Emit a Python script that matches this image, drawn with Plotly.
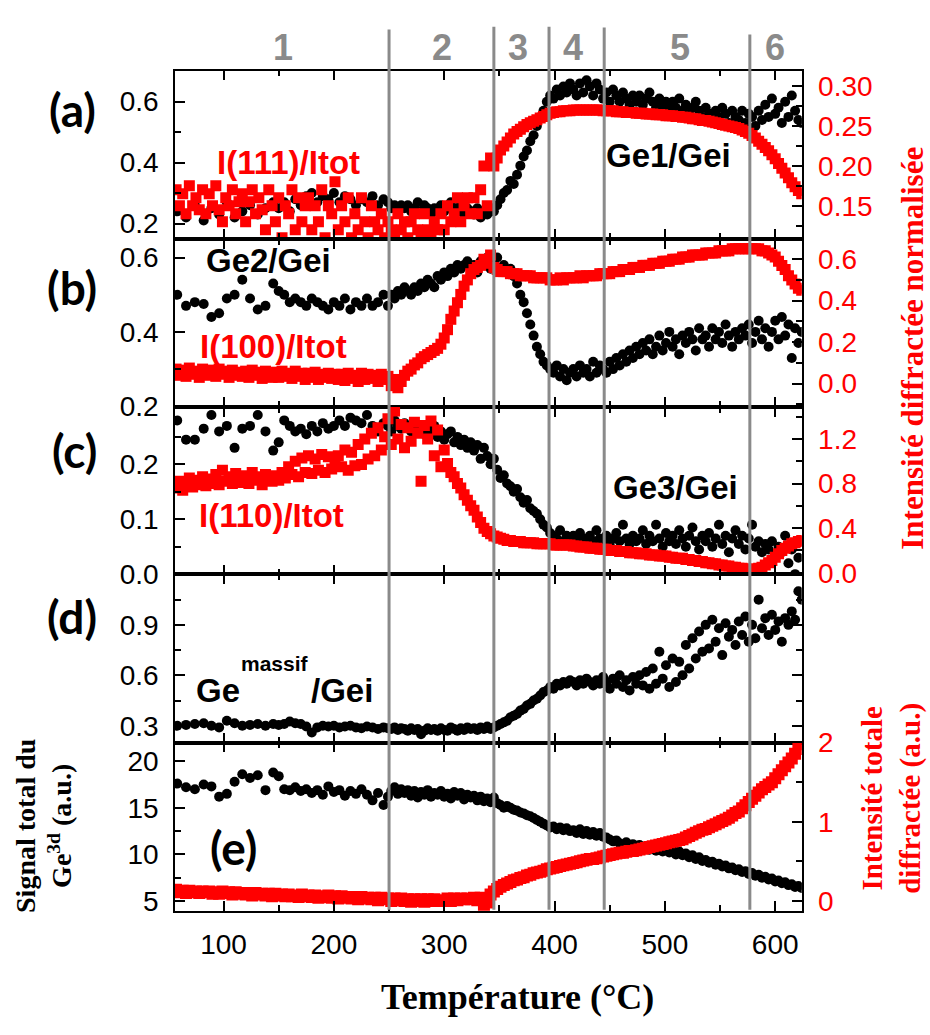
import plotly.graph_objects as go

W, H = 930, 1035

# ---------------------------------------------------------------- data
# Diffraction scans (red squares): one point every 3 degC
T_XRD = [
    57, 60, 63, 66, 69, 72, 75, 78, 81, 84,
    87, 90, 93, 96, 99, 102, 105, 108, 111, 114,
    117, 120, 123, 126, 129, 132, 135, 138, 141, 144,
    147, 150, 153, 156, 159, 162, 165, 168, 171, 174,
    177, 180, 183, 186, 189, 192, 195, 198, 201, 204,
    207, 210, 213, 216, 219, 222, 225, 228, 231, 234,
    237, 240, 243, 246, 249, 252, 255, 258, 261, 264,
    267, 270, 273, 276, 279, 282, 285, 288, 291, 294,
    297, 300, 303, 306, 309, 312, 315, 318, 321, 324,
    327, 330, 333, 336, 339, 342, 345, 348, 351, 354,
    357, 360, 363, 366, 369, 372, 375, 378, 381, 384,
    387, 390, 393, 396, 399, 402, 405, 408, 411, 414,
    417, 420, 423, 426, 429, 432, 435, 438, 441, 444,
    447, 450, 453, 456, 459, 462, 465, 468, 471, 474,
    477, 480, 483, 486, 489, 492, 495, 498, 501, 504,
    507, 510, 513, 516, 519, 522, 525, 528, 531, 534,
    537, 540, 543, 546, 549, 552, 555, 558, 561, 564,
    567, 570, 573, 576, 579, 582, 585, 588, 591, 594,
    597, 600, 603, 606, 609, 612, 615, 618, 621, 624,
]

# Photoemission spectra (black dots): sparse at low temperature, then every 3 degC
T_XPS = [
    58, 66, 74, 82, 89, 96, 103, 110, 117, 124, 131, 138, 145,
    150, 155, 160, 165, 170, 175, 180, 185, 190, 195,
    200, 205, 210, 215, 220, 225, 230, 235, 240, 245,
    249, 252, 255, 258, 261, 264,
    267, 270, 273, 276, 279, 282, 285, 288, 291, 294,
    297, 300, 303, 306, 309, 312, 315, 318, 321, 324,
    327, 330, 333, 336, 339, 342, 345, 348, 351, 354,
    357, 360, 363, 366, 369, 372, 375, 378, 381, 384,
    387, 390, 393, 396, 399, 402, 405, 408, 411, 414,
    417, 420, 423, 426, 429, 432, 435, 438, 441, 444,
    447, 450, 453, 456, 459, 462, 465, 468, 471, 474,
    477, 480, 483, 486, 489, 492, 495, 498, 501, 504,
    507, 510, 513, 516, 519, 522, 525, 528, 531, 534,
    537, 540, 543, 546, 549, 552, 555, 558, 561, 564,
    567, 570, 573, 576, 579, 582, 585, 588, 591, 594,
    597, 600, 603, 606, 609, 612, 615, 618, 621, 624,
]

# (a) Ge1/Gei and I(111)/Itot
GE1 = [
    0.24, 0.22, 0.26, 0.21, 0.25, 0.23, 0.27, 0.22, 0.24, 0.26, 0.23, 0.25, 0.27,
    0.25, 0.27, 0.24, 0.28, 0.26, 0.29, 0.30, 0.27, 0.29, 0.28,
    0.30, 0.27, 0.29, 0.28, 0.26, 0.28, 0.27, 0.29, 0.26, 0.28,
    0.27, 0.25, 0.26, 0.24, 0.26, 0.25,
    0.26, 0.24, 0.25, 0.27, 0.24, 0.26, 0.25, 0.23, 0.25, 0.24,
    0.26, 0.24, 0.25, 0.27, 0.25, 0.24, 0.26, 0.23, 0.25, 0.24,
    0.23, 0.25, 0.22, 0.24, 0.23, 0.25, 0.24, 0.26, 0.28, 0.30,
    0.31, 0.34, 0.33, 0.36, 0.39, 0.42, 0.44, 0.47, 0.49, 0.52,
    0.55, 0.57, 0.60, 0.62, 0.61, 0.64, 0.62, 0.65, 0.63, 0.66,
    0.64, 0.62, 0.66, 0.63, 0.67, 0.65, 0.62, 0.66, 0.64, 0.61,
    0.63, 0.60, 0.64, 0.62, 0.60, 0.63, 0.61, 0.59, 0.62, 0.60,
    0.62, 0.59, 0.61, 0.63, 0.60, 0.58, 0.61, 0.59, 0.60, 0.58,
    0.60, 0.58, 0.61, 0.57, 0.59, 0.56, 0.58, 0.60, 0.57, 0.55,
    0.58, 0.56, 0.54, 0.57, 0.55, 0.58, 0.56, 0.53, 0.57, 0.55,
    0.54, 0.57, 0.53, 0.56, 0.55, 0.52, 0.57, 0.54, 0.59, 0.55,
    0.61, 0.56, 0.58, 0.53, 0.60, 0.55, 0.62, 0.57, 0.54, 0.53,
]
I111 = [
    0.17, 0.15, 0.165, 0.14, 0.175, 0.15, 0.16, 0.145, 0.17, 0.14,
    0.165, 0.15, 0.175, 0.145, 0.13, 0.16, 0.15, 0.17, 0.14, 0.155,
    0.165, 0.13, 0.155, 0.17, 0.14, 0.16, 0.145, 0.12, 0.17, 0.15,
    0.13, 0.16, 0.11, 0.15, 0.14, 0.17, 0.12, 0.16, 0.13, 0.15,
    0.16, 0.12, 0.15, 0.13, 0.17, 0.11, 0.15, 0.14, 0.18, 0.12,
    0.15, 0.13, 0.16, 0.11, 0.14, 0.12, 0.16, 0.13, 0.11, 0.15,
    0.13, 0.12, 0.14, 0.11, 0.13, 0.12, 0.11, 0.14, 0.12, 0.13,
    0.11, 0.13, 0.14, 0.12, 0.11, 0.14, 0.12, 0.11, 0.13, 0.12,
    0.14, 0.12, 0.15, 0.13, 0.14, 0.16, 0.13, 0.15, 0.16, 0.14,
    0.16, 0.14, 0.17, 0.20, 0.15, 0.21, 0.20, 0.21, 0.22, 0.225,
    0.230, 0.235, 0.240, 0.243, 0.246, 0.249, 0.252, 0.254, 0.256, 0.258,
    0.260, 0.262, 0.264, 0.266, 0.267, 0.268, 0.268, 0.269, 0.269, 0.269,
    0.270, 0.270, 0.270, 0.270, 0.270, 0.270, 0.270, 0.270, 0.270, 0.269,
    0.269, 0.269, 0.269, 0.268, 0.268, 0.268, 0.267, 0.267, 0.267, 0.266,
    0.266, 0.266, 0.265, 0.265, 0.265, 0.264, 0.264, 0.264, 0.263, 0.263,
    0.263, 0.262, 0.262, 0.261, 0.261, 0.260, 0.259, 0.259, 0.258, 0.257,
    0.257, 0.256, 0.255, 0.254, 0.253, 0.252, 0.251, 0.250, 0.249, 0.248,
    0.247, 0.245, 0.243, 0.241, 0.238, 0.235, 0.231, 0.227, 0.223, 0.219,
    0.214, 0.209, 0.203, 0.197, 0.191, 0.185, 0.179, 0.174, 0.169, 0.165,
]

# (b) Ge2/Gei and I(100)/Itot
GE2 = [
    0.50, 0.47, 0.48, 0.475, 0.44, 0.45, 0.49, 0.50, 0.54, 0.49, 0.46, 0.47, 0.53,
    0.51, 0.50, 0.48, 0.49, 0.48, 0.47, 0.49, 0.48, 0.47, 0.46,
    0.48, 0.47, 0.49, 0.46, 0.48, 0.47, 0.49, 0.47, 0.48, 0.50,
    0.47, 0.50, 0.49, 0.51, 0.50, 0.52,
    0.51, 0.50, 0.52, 0.51, 0.53, 0.52, 0.54, 0.53, 0.52, 0.55,
    0.54, 0.56, 0.55, 0.57, 0.56, 0.58, 0.57, 0.58, 0.59, 0.57,
    0.58, 0.56, 0.59, 0.58, 0.60, 0.57, 0.59, 0.60, 0.57, 0.58,
    0.56, 0.57, 0.55, 0.53, 0.50, 0.48, 0.45, 0.42, 0.39, 0.36,
    0.34, 0.32, 0.31, 0.30, 0.29, 0.31, 0.28, 0.30, 0.27, 0.29,
    0.30, 0.28, 0.31, 0.29, 0.30, 0.28, 0.32, 0.29, 0.31, 0.30,
    0.29, 0.32, 0.30, 0.33, 0.31, 0.34, 0.32, 0.35, 0.33, 0.36,
    0.34, 0.37, 0.35, 0.38, 0.34, 0.36, 0.39, 0.35, 0.37, 0.40,
    0.36, 0.38, 0.34, 0.39, 0.37, 0.40, 0.38, 0.35, 0.41, 0.38,
    0.39, 0.36, 0.41, 0.38, 0.40, 0.37, 0.42, 0.39, 0.36, 0.40,
    0.38, 0.41, 0.39, 0.42, 0.37, 0.40, 0.43, 0.38, 0.41, 0.36,
    0.40, 0.43, 0.38, 0.44, 0.39, 0.42, 0.33, 0.41, 0.37, 0.40,
]
I100 = [
    0.07, 0.04, 0.065, 0.035, 0.075, 0.045, 0.06, 0.03, 0.07, 0.05,
    0.04, 0.065, 0.035, 0.07, 0.045, 0.06, 0.03, 0.065, 0.04, 0.055,
    0.035, 0.06, 0.03, 0.065, 0.04, 0.055, 0.025, 0.06, 0.045, 0.03,
    0.055, 0.03, 0.06, 0.035, 0.05, 0.025, 0.06, 0.035, 0.05, 0.02,
    0.05, 0.03, 0.055, 0.02, 0.045, 0.03, 0.05, 0.025, 0.045, 0.02,
    0.045, 0.015, 0.05, 0.025, 0.04, 0.01, 0.05, 0.02, 0.045, 0.025,
    0.04, 0.01, 0.045, 0.02, 0.035, -0.01, 0.02, -0.02, 0.01, 0.04,
    0.06, 0.07, 0.09, 0.10, 0.12, 0.13, 0.14, 0.15, 0.16, 0.17,
    0.19, 0.22, 0.26, 0.31, 0.35, 0.39, 0.43, 0.47, 0.50, 0.53,
    0.55, 0.56, 0.57, 0.60, 0.58, 0.62, 0.56, 0.55, 0.54, 0.54,
    0.54, 0.53, 0.53, 0.53, 0.52, 0.52, 0.52, 0.52, 0.51, 0.51,
    0.51, 0.51, 0.51, 0.50, 0.50, 0.50, 0.51, 0.50, 0.51, 0.51,
    0.51, 0.51, 0.52, 0.51, 0.52, 0.52, 0.52, 0.52, 0.53, 0.53,
    0.53, 0.53, 0.54, 0.54, 0.54, 0.55, 0.55, 0.55, 0.56, 0.56,
    0.56, 0.57, 0.57, 0.57, 0.58, 0.58, 0.58, 0.59, 0.59, 0.59,
    0.60, 0.60, 0.60, 0.61, 0.61, 0.61, 0.62, 0.62, 0.62, 0.62,
    0.63, 0.63, 0.63, 0.63, 0.64, 0.64, 0.64, 0.64, 0.65, 0.65,
    0.65, 0.65, 0.65, 0.65, 0.65, 0.65, 0.65, 0.64, 0.64, 0.63,
    0.62, 0.61, 0.59, 0.57, 0.55, 0.52, 0.50, 0.48, 0.46, 0.45,
]

# (c) Ge3/Gei and I(110)/Itot
GE3 = [
    0.28, 0.245, 0.245, 0.265, 0.29, 0.26, 0.27, 0.23, 0.265, 0.27, 0.29, 0.26, 0.225,
    0.24, 0.28, 0.27, 0.26, 0.265, 0.255, 0.27, 0.26, 0.275, 0.265,
    0.27, 0.28, 0.27, 0.285, 0.28, 0.275, 0.29, 0.27, 0.26, 0.275,
    0.27, 0.26, 0.28, 0.27, 0.265, 0.275,
    0.27, 0.26, 0.275, 0.265, 0.27, 0.255, 0.265, 0.26, 0.27, 0.25,
    0.26, 0.245, 0.255, 0.26, 0.24, 0.25, 0.235, 0.245, 0.23, 0.24,
    0.225, 0.235, 0.21, 0.23, 0.215, 0.20, 0.21, 0.19, 0.175, 0.18,
    0.165, 0.16, 0.15, 0.155, 0.14, 0.13, 0.135, 0.12, 0.115, 0.11,
    0.10, 0.09, 0.085, 0.075, 0.07, 0.065, 0.08, 0.06, 0.07, 0.065,
    0.07, 0.06, 0.075, 0.065, 0.055, 0.07, 0.06, 0.08, 0.065, 0.06,
    0.07, 0.055, 0.065, 0.075, 0.06, 0.09, 0.065, 0.055, 0.07, 0.06,
    0.065, 0.08, 0.055, 0.07, 0.06, 0.09, 0.065, 0.05, 0.075, 0.06,
    0.07, 0.055, 0.08, 0.065, 0.05, 0.07, 0.085, 0.06, 0.045, 0.07,
    0.06, 0.075, 0.05, 0.065, 0.09, 0.055, 0.07, 0.04, 0.065, 0.08,
    0.055, 0.07, 0.045, 0.065, 0.09, 0.05, 0.06, 0.04, 0.055, 0.045,
    0.06, 0.035, 0.05, 0.04, 0.07, 0.02, 0.045, 0.0, 0.03, -0.01,
]
I110 = [
    0.76, 0.82, 0.74, 0.80, 0.85, 0.77, 0.83, 0.79, 0.86, 0.78,
    0.84, 0.80, 0.88, 0.79, 0.92, 0.82, 0.86, 0.80, 0.89, 0.83,
    0.81, 0.87, 0.80, 0.90, 0.83, 0.86, 0.79, 0.88, 0.84, 0.82,
    0.87, 0.83, 0.90, 0.85, 0.95, 0.88, 1.00, 0.86, 1.03, 0.90,
    1.05, 0.89, 1.02, 0.92, 1.06, 0.90, 1.04, 0.93, 0.98, 1.05,
    0.95, 1.10, 0.92, 1.08, 0.96, 1.15, 0.97, 1.20, 1.02, 1.25,
    1.05, 1.30, 1.10, 1.22, 1.38, 1.15, 1.45, 1.20, 1.33, 1.12,
    1.30, 1.18, 1.35, 1.25, 0.82, 1.32, 1.20, 1.36, 1.05, 1.28,
    0.95, 1.10, 0.98, 0.90, 0.86, 0.80, 0.76, 0.70, 0.65, 0.60,
    0.56, 0.50, 0.45, 0.40, 0.37, 0.35, 0.33, 0.32, 0.31, 0.30,
    0.29, 0.29, 0.28, 0.28, 0.28, 0.27, 0.27, 0.27, 0.27, 0.26,
    0.26, 0.26, 0.26, 0.26, 0.25, 0.25, 0.25, 0.25, 0.25, 0.25,
    0.24, 0.24, 0.23, 0.23, 0.23, 0.22, 0.22, 0.22, 0.21, 0.21,
    0.21, 0.20, 0.20, 0.20, 0.19, 0.19, 0.19, 0.18, 0.18, 0.18,
    0.17, 0.17, 0.17, 0.16, 0.16, 0.16, 0.15, 0.15, 0.15, 0.14,
    0.14, 0.13, 0.13, 0.13, 0.12, 0.12, 0.11, 0.11, 0.10, 0.10,
    0.09, 0.09, 0.08, 0.08, 0.07, 0.07, 0.06, 0.06, 0.05, 0.05,
    0.04, 0.04, 0.035, 0.03, 0.03, 0.035, 0.04, 0.05, 0.07, 0.09,
    0.11, 0.14, 0.17, 0.20, 0.22, 0.24, 0.26, 0.27, 0.28, 0.29,
]

# (d) Ge(massif)/Gei
GE_MASSIF = [
    0.30, 0.305, 0.31, 0.315, 0.30, 0.29, 0.33, 0.315, 0.30, 0.305, 0.31, 0.30, 0.31,
    0.305, 0.31, 0.325, 0.315, 0.31, 0.295, 0.26, 0.29, 0.30, 0.295,
    0.30, 0.29, 0.295, 0.30, 0.29, 0.285, 0.295, 0.29, 0.28, 0.29,
    0.285, 0.28, 0.29, 0.275, 0.285, 0.28,
    0.27, 0.285, 0.275, 0.28, 0.25, 0.27, 0.285, 0.275, 0.28, 0.27,
    0.285, 0.275, 0.27, 0.29, 0.28, 0.27, 0.285, 0.275, 0.29, 0.28,
    0.285, 0.275, 0.29, 0.28, 0.295, 0.28, 0.29, 0.30, 0.31, 0.32,
    0.33, 0.35, 0.36, 0.37, 0.39, 0.40, 0.42, 0.43, 0.45, 0.46,
    0.48, 0.50, 0.51, 0.53, 0.52, 0.55, 0.54, 0.56, 0.55, 0.57,
    0.56, 0.54, 0.57, 0.55, 0.58, 0.56, 0.54, 0.57, 0.55, 0.59,
    0.56, 0.52, 0.58, 0.55, 0.60, 0.53, 0.57, 0.51, 0.59, 0.55,
    0.60, 0.54, 0.62, 0.52, 0.64, 0.55, 0.74, 0.58, 0.66, 0.53,
    0.70, 0.56, 0.68, 0.60, 0.78, 0.64, 0.82, 0.70, 0.86, 0.74,
    0.90, 0.76, 0.93, 0.80, 0.88, 0.72, 0.91, 0.83, 0.87, 0.78,
    0.92, 0.84, 0.95, 0.80, 0.90, 0.82, 1.05, 0.88, 0.94, 0.84,
    0.96, 0.87, 0.92, 0.80, 0.94, 0.90, 0.98, 0.93, 1.10, 1.05,
]

# (e) total Ge3d signal and total diffracted intensity
GE3D_TOTAL = [
    17.6, 17.2, 17.0, 17.5, 17.3, 16.2, 16.5, 17.8, 18.6, 18.2, 18.5, 16.9, 18.8,
    18.4, 17.0, 16.9, 17.2, 16.8, 17.0, 16.6, 16.9, 16.4, 17.3,
    16.7, 16.9, 16.3, 16.8, 16.5, 17.0, 16.4, 15.8, 16.6, 15.3,
    16.2, 16.8, 17.2, 16.5, 17.0, 16.6,
    16.9, 16.3, 16.8, 16.1, 16.7, 16.4, 16.9, 16.2, 16.6, 16.4,
    16.8, 16.2, 16.5, 16.0, 16.7, 16.3, 16.6, 15.9, 16.4, 16.1,
    16.3, 15.8, 16.2, 15.7, 16.0, 15.6, 16.1, 15.5, 15.3, 15.0,
    15.2, 15.0, 14.8, 14.7, 14.5, 14.4, 14.2, 14.1, 13.9, 13.7,
    13.5, 13.3, 13.1, 12.9, 13.0, 12.7, 12.9, 12.6, 12.8, 12.5,
    12.6, 12.3, 12.7, 12.2, 12.5, 12.1, 12.4, 12.0, 12.3, 11.9,
    11.8, 11.6, 11.4, 11.5, 11.2, 11.0, 11.3, 10.8, 11.1, 10.7,
    11.0, 10.6, 10.9, 10.5, 10.8, 10.4, 10.7, 10.3, 10.5, 10.2,
    10.4, 10.0, 10.3, 9.9, 10.1, 9.7, 9.9, 9.5, 9.7, 9.3,
    9.4, 9.1, 9.2, 8.9, 9.0, 8.7, 8.8, 8.5, 8.6, 8.3,
    8.4, 8.1, 8.2, 7.9, 8.0, 7.7, 7.8, 7.5, 7.6, 7.3,
    7.4, 7.1, 7.2, 6.9, 7.0, 6.7, 6.8, 6.5, 6.6, 6.4,
]
I_TOTAL = [
    0.14, 0.11, 0.13, 0.10, 0.13, 0.11, 0.12, 0.10, 0.12, 0.11,
    0.12, 0.09, 0.11, 0.09, 0.12, 0.10, 0.11, 0.08, 0.11, 0.09,
    0.10, 0.08, 0.10, 0.07, 0.10, 0.08, 0.09, 0.07, 0.09, 0.06,
    0.09, 0.07, 0.08, 0.06, 0.08, 0.06, 0.07, 0.05, 0.08, 0.06,
    0.07, 0.05, 0.07, 0.04, 0.06, 0.05, 0.07, 0.04, 0.06, 0.03,
    0.06, 0.04, 0.05, 0.03, 0.05, 0.02, 0.05, 0.03, 0.04, 0.02,
    0.04, 0.01, 0.04, 0.02, 0.03, 0.00, 0.03, 0.01, 0.03, 0.00,
    0.02, -0.01, 0.02, 0.00, 0.02, -0.01, 0.02, 0.00, 0.02, 0.00,
    0.01, 0.00, 0.03, 0.00, 0.03, 0.01, 0.03, 0.02, 0.03, 0.02,
    0.04, 0.01, 0.04, -0.06, -0.02, 0.08, 0.12, 0.15, 0.18, 0.20,
    0.22, 0.24, 0.26, 0.27, 0.29, 0.30, 0.32, 0.33, 0.35, 0.36,
    0.37, 0.38, 0.40, 0.41, 0.42, 0.43, 0.44, 0.45, 0.46, 0.47,
    0.48, 0.49, 0.50, 0.51, 0.52, 0.53, 0.53, 0.54, 0.55, 0.56,
    0.57, 0.58, 0.59, 0.60, 0.61, 0.61, 0.62, 0.63, 0.63, 0.64,
    0.65, 0.66, 0.67, 0.68, 0.69, 0.70, 0.71, 0.72, 0.73, 0.74,
    0.75, 0.76, 0.77, 0.78, 0.80, 0.82, 0.84, 0.86, 0.88, 0.90,
    0.91, 0.93, 0.95, 0.97, 0.99, 1.01, 1.03, 1.05, 1.08, 1.11,
    1.13, 1.17, 1.21, 1.25, 1.29, 1.33, 1.37, 1.41, 1.44, 1.47,
    1.50, 1.55, 1.60, 1.65, 1.70, 1.75, 1.80, 1.86, 1.92, 1.98,
]

# temperature regimes
PHASE_BOUNDS = [250, 345, 395, 445, 577]
PHASE_LABELS = ["1", "2", "3", "4", "5", "6"]
PHASE_LABEL_T = [154, 298, 367, 417, 514, 600]

# ---------------------------------------------------------------- style
BLACK, RED, GREY = "#000000", "#ff0000", "#8a8a8a"
SANS = "Liberation Sans, Arial, sans-serif"
NARROW = "Liberation Sans Narrow, Arial Narrow, Liberation Sans, sans-serif"
SERIF = "Liberation Serif, Times New Roman, serif"
PANEL_FONT = "Lato, Open Sans, sans-serif"
TICK_SIZE = 28
LW = 1.6

X_RANGE = [56, 624]
PLOT_L, PLOT_R = 175, 801.7
# panel top / bottom in pixels
ROWS = {"a": (57.3, 230.7), "b": (231.0, 404.0), "c": (404.0, 576.7),
        "d": (576.7, 750.0), "e": (750.0, 923.3)}


def px(x):
    return x / W


def py(y):
    return 1 - y / H


def dom(row):
    top, bottom = ROWS[row]
    return [py(bottom), py(top)]


def x_axis(labels):
    return dict(
        domain=[px(PLOT_L), px(PLOT_R)], range=X_RANGE,
        showline=True, linecolor=BLACK, linewidth=LW, mirror="ticks",
        ticks="inside", ticklen=10, tickwidth=LW, tickcolor=BLACK,
        tickmode="array", tickvals=[100, 200, 300, 400, 500, 600],
        showticklabels=labels, tickfont=dict(family=SANS, size=TICK_SIZE, color=BLACK),
        ticklabelstandoff=8,
        minor=dict(tickmode="array", tickvals=[150, 250, 350, 450, 550],
                   ticks="inside", ticklen=6, tickwidth=LW, tickcolor=BLACK),
        showgrid=False, zeroline=False,
    )


def y_axis(row, xa, rng, vals, minor_vals, fmt, side="left", color=BLACK,
           overlay=None, mirror=False):
    ax = dict(
        range=rng, anchor=xa, side=side,
        showline=True, linecolor=BLACK, linewidth=LW,
        mirror="ticks" if mirror else False,
        ticks="inside", ticklen=10, tickwidth=LW, tickcolor=BLACK,
        tickmode="array", tickvals=vals, tickformat=fmt,
        tickfont=dict(family=SANS, size=TICK_SIZE, color=color),
        ticklabelstandoff=9,
        minor=dict(tickmode="array", tickvals=minor_vals, ticks="inside",
                   ticklen=6, tickwidth=LW, tickcolor=BLACK),
        showgrid=False, zeroline=False,
    )
    if overlay:
        ax["overlaying"] = overlay
    else:
        ax["domain"] = dom(row)
    return ax


fig = go.Figure()


def dots(x, y, xa, ya):
    fig.add_trace(go.Scatter(x=x, y=y, xaxis=xa, yaxis=ya, mode="markers",
                             marker=dict(symbol="circle", size=10, color=BLACK),
                             showlegend=False, hoverinfo="skip"))


def squares(x, y, xa, ya, size=11):
    fig.add_trace(go.Scatter(x=x, y=y, xaxis=xa, yaxis=ya, mode="markers",
                             marker=dict(symbol="square", size=size, color=RED),
                             showlegend=False, hoverinfo="skip"))


dots(T_XPS, GE1, "x", "y")
squares(T_XRD, I111, "x", "y2")
dots(T_XPS, GE2, "x2", "y3")
squares(T_XRD, I100, "x2", "y4")
dots(T_XPS, GE3, "x3", "y5")
squares(T_XRD, I110, "x3", "y6")
dots(T_XPS, GE_MASSIF, "x4", "y7")
dots(T_XPS, GE3D_TOTAL, "x5", "y8")
squares(T_XRD, I_TOTAL, "x5", "y9", size=12)

layout = dict(
    width=W, height=H, autosize=False,
    margin=dict(l=0, r=0, t=0, b=0, pad=0),
    paper_bgcolor="white", plot_bgcolor="white", showlegend=False,
)

# x axes: panels a-d without labels, e with labels
for i, row in enumerate("abcde", start=1):
    key = "xaxis" if i == 1 else f"xaxis{i}"
    layout[key] = x_axis(labels=(row == "e"))

layout["xaxis"]["anchor"] = "y"
layout["xaxis2"]["anchor"] = "y3"
layout["xaxis3"]["anchor"] = "y5"
layout["xaxis4"]["anchor"] = "y7"
layout["xaxis5"]["anchor"] = "y8"

# (a)
layout["yaxis"] = y_axis("a", "x", [0.150, 0.702], [0.2, 0.4, 0.6], [0.3, 0.5, 0.7], ".1f")
layout["yaxis2"] = y_axis("a", "x", [0.1086, 0.3195], [0.15, 0.20, 0.25, 0.30],
                          [0.125, 0.175, 0.225, 0.275], ".2f",
                          side="right", color=RED, overlay="y")
# (b)
layout["yaxis3"] = y_axis("b", "x2", [0.1984, 0.6495], [0.2, 0.4, 0.6], [0.3, 0.5], ".1f")
layout["yaxis4"] = y_axis("b", "x2", [-0.1123, 0.6968], [0.0, 0.2, 0.4, 0.6],
                          [-0.1, 0.1, 0.3, 0.5], ".1f",
                          side="right", color=RED, overlay="y3")
# (c)
layout["yaxis5"] = y_axis("c", "x3", [-0.0005, 0.3046], [0.0, 0.1, 0.2],
                          [0.05, 0.15, 0.25], ".1f")
layout["yaxis6"] = y_axis("c", "x3", [-0.0148, 1.487], [0.0, 0.4, 0.8, 1.2],
                          [0.2, 0.6, 1.0, 1.4], ".1f",
                          side="right", color=RED, overlay="y5")
# (d)
layout["yaxis7"] = y_axis("d", "x4", [0.2, 1.2], [0.3, 0.6, 0.9],
                          [0.45, 0.75, 1.05], ".1f", mirror=True)
# (e)
layout["yaxis8"] = y_axis("e", "x5", [3.958, 22.01], [5, 10, 15, 20], [7.5, 12.5, 17.5], "d")
layout["yaxis9"] = y_axis("e", "x5", [-0.1225, 2.001], [0, 1, 2], [0.5, 1.5], "d",
                          side="right", color=RED, overlay="y8")

fig.update_layout(**layout)

# regime boundaries
line_tops = [15, 12, 12, 13, 20]
for t, top in zip(PHASE_BOUNDS, line_tops):
    fig.add_shape(type="line", xref="x5", yref="paper", x0=t, x1=t,
                  y0=py(922.5), y1=py(top), layer="above",
                  line=dict(color=GREY, width=3))

ann = []
for lab, t in zip(PHASE_LABELS, PHASE_LABEL_T):
    ann.append(dict(text=f"<b>{lab}</b>", xref="x5", yref="paper", x=t, y=py(34),
                    showarrow=False, xanchor="center", yanchor="middle",
                    font=dict(family=SANS, size=36, color=GREY)))

# panel letters
for lab, (x, y) in {"(a)": (72, 97), "(b)": (72, 281), "(c)": (74, 449),
                    "(d)": (72, 620), "(e)": (233, 858)}.items():
    ann.append(dict(text=f"<b>{lab}</b>", xref="paper", yref="paper", x=px(x), y=py(y),
                    showarrow=False, xanchor="center", yanchor="middle",
                    font=dict(family=PANEL_FONT, size=46, color=BLACK)))

# series names
for txt, col, x, y in [("I(111)/Itot", RED, 288, 152), ("Ge1/Gei", BLACK, 668, 145),
                       ("Ge2/Gei", BLACK, 268, 253), ("I(100)/Itot", RED, 273, 342),
                       ("I(110)/Itot", RED, 271, 516), ("Ge3/Gei", BLACK, 675, 487)]:
    ann.append(dict(text=f"<b>{txt}</b>", xref="paper", yref="paper", x=px(x), y=py(y),
                    showarrow=False, xanchor="center", yanchor="middle",
                    font=dict(family=NARROW, size=33, color=col)))

ann.append(dict(text="<b>Ge</b>", xref="paper", yref="paper", x=px(194), y=py(696),
                showarrow=False, xanchor="left", yanchor="middle",
                font=dict(family=NARROW, size=33, color=BLACK)))
ann.append(dict(text="<b>massif</b>", xref="paper", yref="paper", x=px(239), y=py(669),
                showarrow=False, xanchor="left", yanchor="middle",
                font=dict(family=NARROW, size=21, color=BLACK)))
ann.append(dict(text="<b>/Gei</b>", xref="paper", yref="paper", x=px(309), y=py(696),
                showarrow=False, xanchor="left", yanchor="middle",
                font=dict(family=NARROW, size=33, color=BLACK)))

# axis titles
ann.append(dict(text="<b>Signal total du</b><br><b>Ge<sup>3d</sup> (a.u.)</b>",
                xref="paper", yref="paper", x=px(44), y=py(836), textangle=-90,
                showarrow=False, xanchor="center", yanchor="middle", align="center",
                font=dict(family=SERIF, size=28, color=BLACK)))
ann.append(dict(text="<b>Intensité diffractée normalisée</b>",
                xref="paper", yref="paper", x=px(913), y=py(344), textangle=-90,
                showarrow=False, xanchor="center", yanchor="middle",
                font=dict(family=SERIF, size=31, color=RED)))
ann.append(dict(text="<b>Intensité totale</b><br><b>diffractée (a.u.)</b>",
                xref="paper", yref="paper", x=px(892), y=py(808), textangle=-90,
                showarrow=False, xanchor="center", yanchor="middle", align="center",
                font=dict(family=SERIF, size=29, color=RED)))
ann.append(dict(text="<b>Température (°C)</b>", xref="paper", yref="paper",
                x=px(517), y=py(1012), showarrow=False, xanchor="center", yanchor="middle",
                font=dict(family=SERIF, size=36, color=BLACK)))

fig.update_layout(annotations=ann)

fig.write_html("out.html")
